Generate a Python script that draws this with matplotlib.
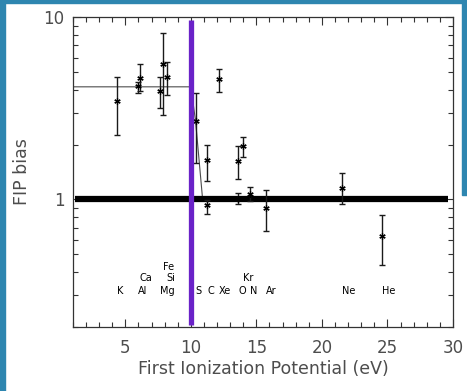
import numpy as np
import matplotlib
matplotlib.use("Agg")
import matplotlib.pyplot as plt
from matplotlib.ticker import FixedLocator, NullFormatter, FixedFormatter
from matplotlib.patches import Rectangle

# === datos ===
fip = [4.34, 5.99, 6.11, 7.65, 7.90, 8.15, 10.36, 11.26, 11.26, 12.13,
       13.62, 14.00, 13.62, 14.53, 15.76, 21.56, 24.59]
bias = [3.49, 4.21, 4.66, 3.96, 5.57, 4.72, 2.70, 1.64, 0.93, 4.56,
        1.62, 1.97, 1.00, 1.07, 0.90, 1.16, 0.634]
bias_hi = [4.70, 4.43, 5.52, 4.70, 8.24, 5.66, 3.82, 2.00, 0.99, 5.18,
           1.97, 2.20, 1.09, 1.17, 1.13, 1.40, 0.82]
bias_lo = [2.26, 3.84, 3.94, 3.19, 2.89, 3.75, 1.59, 1.26, 0.83, 3.89,
           1.30, 1.72, 0.94, 0.98, 0.67, 0.95, 0.438]

# modelo (linea fina) y referencia FIP bias = 1
model_x = [1.0, 10.0, 10.36, 10.9]
model_y = [4.15, 4.15, 2.70, 1.0]
unity_x = [1.2, 29.6]
unity_y = [1.0, 1.0]
fip_split = 10.0

# etiquetas de elementos: (nombre, FIP, fila)
elem_names = ["K", "Al", "Mg", "S", "C", "Xe", "O", "N", "Ar", "Ne", "He",
              "Ca", "Si", "Kr", "Fe"]
elem_fip = [4.34, 5.99, 7.65, 10.36, 11.26, 12.13, 13.62, 14.53, 15.76, 21.56, 24.59,
            6.11, 8.15, 14.00, 7.90]
elem_row = [0, 0, 0, 0, 0, 0, 0, 0, 0, 0, 0, 1, 1, 1, 2]
row_y = [0.316, 0.371, 0.428]

# === figura ===
fig = plt.figure(figsize=(4.67, 3.91), dpi=100)
ax = fig.add_axes([0.156, 0.164, 0.814, 0.792])

ax.set_yscale("log")
ax.set_xlim(1, 30)
ax.set_ylim(0.2, 10)

ax.plot(model_x, model_y, "-", color="0.3", linewidth=0.8, zorder=2)
ax.plot(unity_x, unity_y, "-", color="black", linewidth=4.5,
        solid_capstyle="butt", zorder=3)

b = np.array(bias)
yerr = [b - np.array(bias_lo), np.array(bias_hi) - b]
ax.errorbar(fip, bias, yerr=yerr, fmt="none", ecolor="0.1",
            elinewidth=1.0, capsize=2.2, capthick=1.0, zorder=4)
ax.plot(fip, bias, linestyle="none", marker=(6, 2, 0), markersize=4.5,
        color="black", markeredgewidth=0.9, zorder=5)

ax.plot([fip_split, fip_split], [0.205, 9.7], "-", color="#6a22c8",
        linewidth=3.8, solid_capstyle="butt", zorder=6)

for name, x, r in zip(elem_names, elem_fip, elem_row):
    ax.text(x, row_y[r], name, fontsize=7, ha="left", va="center", color="black")

# ejes estilo IDL
ax.xaxis.set_major_locator(FixedLocator([5, 10, 15, 20, 25, 30]))
ax.xaxis.set_minor_locator(FixedLocator(np.arange(1, 31, 1)))
ax.yaxis.set_major_locator(FixedLocator([1, 10]))
ax.yaxis.set_major_formatter(FixedFormatter(["1", "10"]))
ax.yaxis.set_minor_locator(FixedLocator([0.2, 0.3, 0.4, 0.5, 0.6, 0.7, 0.8, 0.9,
                                         2, 3, 4, 5, 6, 7, 8, 9]))
ax.yaxis.set_minor_formatter(NullFormatter())
ax.tick_params(which="both", direction="in", top=True, right=True,
               color="0.2", width=0.8)
ax.tick_params(which="major", length=6, labelsize=12, labelcolor="0.3")
ax.tick_params(axis="x", which="major", pad=9)
ax.tick_params(axis="y", which="major", pad=6)
ax.tick_params(which="minor", length=3.5)
for s in ax.spines.values():
    s.set_color("0.2")
    s.set_linewidth(0.9)

ax.set_xlabel("First Ionization Potential (eV)", fontsize=12.5, color="0.3", labelpad=2)
ax.set_ylabel("FIP bias", fontsize=12.5, color="0.3", labelpad=9)

# marco azul de la captura
blue = "#2e86b0"
fig.patches.append(Rectangle((0, 0), 5 / 467, 1, transform=fig.transFigure,
                             color=blue, zorder=10))
fig.patches.append(Rectangle((0, 1 - 3 / 391), 1, 3 / 391, transform=fig.transFigure,
                             color=blue, zorder=10))
fig.patches.append(Rectangle((1 - 5 / 467, 1 - 195 / 391), 5 / 467, 195 / 391,
                             transform=fig.transFigure, color=blue, zorder=10))

fig.savefig("out.png", dpi=100)
